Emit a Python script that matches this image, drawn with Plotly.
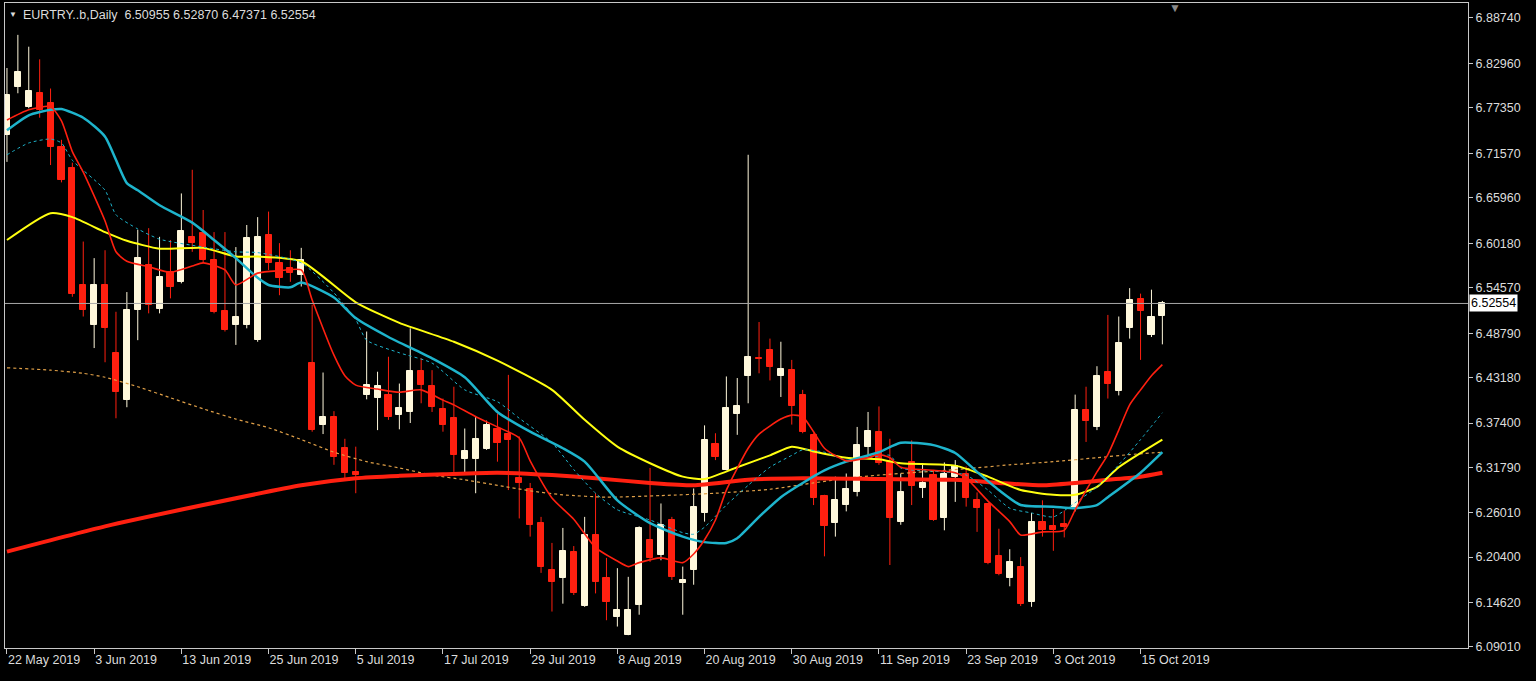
import plotly.graph_objects as go
import pandas as pd

# ---------------- data ----------------
symbol = "EURTRY..b"
timeframe = "Daily"
dates = pd.bdate_range("2019-05-22", "2019-10-17")
cats = [d.strftime("%Y-%m-%d") for d in dates]

opens = [6.739, 6.800, 6.775, 6.792, 6.780, 6.724, 6.697, 6.549, 6.498, 6.549,
         6.463, 6.403, 6.517, 6.574, 6.518, 6.566, 6.553, 6.610, 6.615, 6.581,
         6.516, 6.498, 6.498, 6.479, 6.612, 6.577, 6.571, 6.562, 6.450, 6.371,
         6.381, 6.342, 6.312, 6.409, 6.406, 6.409, 6.384, 6.388, 6.440, 6.421,
         6.392, 6.380, 6.328, 6.328, 6.341, 6.366, 6.360, 6.304, 6.290, 6.247,
         6.188, 6.178, 6.211, 6.142, 6.232, 6.177, 6.128, 6.105, 6.143, 6.226,
         6.207, 6.251, 6.171, 6.188, 6.260, 6.348, 6.314, 6.386, 6.433, 6.457,
         6.467, 6.433, 6.441, 6.409, 6.359, 6.281, 6.247, 6.270, 6.287, 6.344,
         6.363, 6.325, 6.249, 6.324, 6.292, 6.308, 6.253, 6.306, 6.309, 6.277,
         6.271, 6.205, 6.177, 6.192, 6.147, 6.248, 6.244, 6.246, 6.265, 6.391,
         6.369, 6.439, 6.414, 6.494, 6.531, 6.486, 6.50955]
highs = [6.824, 6.866, 6.851, 6.835, 6.798, 6.733, 6.704, 6.604, 6.583, 6.593,
         6.515, 6.540, 6.619, 6.621, 6.610, 6.606, 6.665, 6.695, 6.644, 6.616,
         6.616, 6.597, 6.625, 6.635, 6.642, 6.602, 6.593, 6.596, 6.524, 6.438,
         6.389, 6.354, 6.344, 6.490, 6.439, 6.458, 6.424, 6.494, 6.456, 6.441,
         6.405, 6.420, 6.367, 6.383, 6.377, 6.386, 6.435, 6.357, 6.298, 6.255,
         6.222, 6.241, 6.218, 6.255, 6.285, 6.203, 6.190, 6.179, 6.243, 6.317,
         6.272, 6.255, 6.192, 6.291, 6.371, 6.361, 6.433, 6.431, 6.714, 6.502,
         6.481, 6.477, 6.454, 6.416, 6.361, 6.283, 6.306, 6.310, 6.369, 6.388,
         6.395, 6.354, 6.310, 6.352, 6.321, 6.314, 6.324, 6.327, 6.319, 6.286,
         6.272, 6.240, 6.214, 6.204, 6.260, 6.276, 6.265, 6.263, 6.410, 6.420,
         6.446, 6.511, 6.509, 6.545, 6.538, 6.543, 6.52870]
lows = [6.705, 6.792, 6.773, 6.761, 6.701, 6.679, 6.534, 6.509, 6.469, 6.451,
        6.380, 6.394, 6.479, 6.513, 6.513, 6.532, 6.551, 6.591, 6.577, 6.513,
        6.490, 6.473, 6.494, 6.477, 6.568, 6.536, 6.553, 6.547, 6.363, 6.360,
        6.321, 6.304, 6.285, 6.404, 6.365, 6.378, 6.366, 6.374, 6.399, 6.388,
        6.363, 6.312, 6.311, 6.285, 6.340, 6.325, 6.289, 6.253, 6.230, 6.184,
        6.135, 6.145, 6.156, 6.141, 6.158, 6.124, 6.116, 6.105, 6.131, 6.198,
        6.200, 6.175, 6.131, 6.169, 6.249, 6.327, 6.314, 6.359, 6.399, 6.437,
        6.428, 6.407, 6.372, 6.361, 6.270, 6.205, 6.230, 6.262, 6.281, 6.333,
        6.321, 6.194, 6.245, 6.270, 6.279, 6.250, 6.238, 6.274, 6.268, 6.236,
        6.195, 6.181, 6.167, 6.142, 6.141, 6.230, 6.212, 6.229, 6.262, 6.350,
        6.365, 6.405, 6.409, 6.481, 6.454, 6.483, 6.47371]
closes = [6.790, 6.819, 6.795, 6.771, 6.724, 6.682, 6.538, 6.517, 6.549, 6.494,
          6.413, 6.517, 6.583, 6.524, 6.559, 6.547, 6.617, 6.602, 6.581, 6.515,
          6.492, 6.509, 6.609, 6.610, 6.577, 6.558, 6.564, 6.581, 6.365, 6.381,
          6.331, 6.311, 6.308, 6.422, 6.421, 6.381, 6.393, 6.440, 6.422, 6.394,
          6.371, 6.333, 6.339, 6.354, 6.371, 6.349, 6.352, 6.298, 6.245, 6.192,
          6.173, 6.212, 6.158, 6.232, 6.173, 6.147, 6.137, 6.137, 6.241, 6.203,
          6.245, 6.179, 6.175, 6.268, 6.352, 6.331, 6.393, 6.395, 6.458, 6.455,
          6.445, 6.442, 6.395, 6.363, 6.279, 6.243, 6.276, 6.290, 6.346, 6.364,
          6.323, 6.253, 6.287, 6.294, 6.298, 6.251, 6.310, 6.319, 6.279, 6.266,
          6.196, 6.183, 6.198, 6.145, 6.249, 6.239, 6.239, 6.242, 6.391, 6.377,
          6.433, 6.423, 6.476, 6.530, 6.516, 6.509, 6.52554]

# moving averages (bar index, value)
ma_fast_idx = [0, 2, 4, 5, 6, 7, 9, 10, 11, 13, 15, 17, 18, 20, 21, 23, 25, 27, 28, 30,
               31, 32, 34, 36, 38, 40, 41, 43, 45, 47, 48, 50, 52, 54, 56, 57, 58, 60, 62, 63,
               64, 65, 66, 68, 69, 71, 72, 73, 74, 75, 77, 79, 80, 81, 82, 85, 87, 88, 90, 92,
               93, 95, 97, 98, 100, 101, 102, 103, 104, 105, 106]
ma_fast = [6.758, 6.771, 6.775, 6.757, 6.718, 6.692, 6.630, 6.591, 6.579, 6.572, 6.565, 6.573,
           6.577, 6.568, 6.549, 6.564, 6.567, 6.568, 6.530, 6.460, 6.434, 6.422, 6.417, 6.413,
           6.416, 6.403, 6.397, 6.382, 6.369, 6.355, 6.326, 6.279, 6.252, 6.216, 6.199, 6.192,
           6.197, 6.203, 6.197, 6.208, 6.226, 6.251, 6.289, 6.342, 6.360, 6.379, 6.384, 6.382,
           6.363, 6.342, 6.326, 6.330, 6.334, 6.330, 6.318, 6.314, 6.311, 6.304, 6.275, 6.249,
           6.232, 6.236, 6.238, 6.264, 6.312, 6.334, 6.365, 6.397, 6.416, 6.434, 6.448]

ma_slow_idx = [0, 9, 18, 27, 32, 36, 40, 45, 50, 54, 59, 63, 68, 73, 80, 87, 91, 95, 98, 101, 104, 106]
ma_slow = [6.211, 6.243, 6.270, 6.295, 6.304, 6.307, 6.309, 6.311, 6.308, 6.304, 6.298,
           6.295, 6.302, 6.304, 6.303, 6.302, 6.298, 6.295, 6.298, 6.302, 6.306, 6.311]

ma_yellow_idx = [0, 4, 6, 9, 11, 14, 18, 21, 23, 27, 32, 36, 41, 45, 50, 53, 56, 59, 62, 64,
                 67, 70, 72, 74, 77, 80, 82, 87, 90, 93, 96, 98, 100, 102, 106]
ma_yellow = [6.606, 6.640, 6.635, 6.616, 6.605, 6.595, 6.596, 6.585, 6.585, 6.579, 6.527,
             6.501, 6.477, 6.453, 6.416, 6.378, 6.344, 6.323, 6.306, 6.303, 6.318, 6.333,
             6.344, 6.338, 6.330, 6.328, 6.323, 6.320, 6.306, 6.289, 6.283, 6.283, 6.293,
             6.318, 6.353]

ma_cyan_idx = [0, 2, 4, 5, 7, 9, 11, 12, 14, 17, 19, 21, 23, 24, 26, 27, 30, 32, 35, 39,
               42, 45, 48, 51, 53, 56, 59, 62, 64, 66, 67, 69, 71, 73, 75, 77, 80, 82, 85, 87,
               89, 91, 93, 96, 98, 100, 101, 104, 106]
ma_cyan = [6.745, 6.764, 6.771, 6.772, 6.761, 6.737, 6.678, 6.669, 6.650, 6.628, 6.606,
           6.583, 6.558, 6.549, 6.546, 6.552, 6.533, 6.507, 6.483, 6.456, 6.432, 6.388,
           6.363, 6.342, 6.325, 6.276, 6.247, 6.230, 6.223, 6.222, 6.228, 6.255, 6.280,
           6.298, 6.314, 6.325, 6.337, 6.349, 6.346, 6.336, 6.312, 6.289, 6.270, 6.268,
           6.266, 6.270, 6.280, 6.311, 6.337]

ma_cyan_dash_idx = [0, 2, 4, 5, 6, 9, 10, 12, 14, 18, 21, 23, 27, 30, 32, 33, 36, 39, 42, 45,
                    47, 50, 52, 54, 56, 59, 62, 63, 64, 66, 68, 70, 72, 73, 75, 77, 79, 81, 82, 86,
                    88, 90, 92, 94, 96, 98, 100, 102, 104, 106]
ma_cyan_dash = [6.714, 6.729, 6.734, 6.729, 6.707, 6.669, 6.638, 6.620, 6.607, 6.597, 6.591,
                6.590, 6.577, 6.539, 6.505, 6.479, 6.463, 6.450, 6.416, 6.401, 6.380, 6.349,
                6.315, 6.285, 6.264, 6.251, 6.235, 6.233, 6.242, 6.270, 6.295, 6.318, 6.333,
                6.340, 6.337, 6.327, 6.330, 6.333, 6.317, 6.312, 6.308, 6.289, 6.266, 6.260,
                6.255, 6.273, 6.293, 6.321, 6.353, 6.387]

ma_orange_idx = [0, 4, 7, 9, 12, 15, 18, 21, 24, 27, 30, 33, 36, 39, 42, 45, 48, 51, 55, 60,
                 65, 70, 74, 77, 80, 84, 88, 92, 96, 100, 103, 106]
ma_orange = [6.444, 6.441, 6.437, 6.432, 6.420, 6.406, 6.392, 6.379, 6.368, 6.353, 6.337,
             6.325, 6.317, 6.308, 6.302, 6.295, 6.288, 6.283, 6.280, 6.282, 6.285, 6.290,
             6.298, 6.304, 6.308, 6.312, 6.316, 6.321, 6.325, 6.330, 6.334, 6.337]

price_ticks = [6.88740, 6.82960, 6.77350, 6.71570, 6.65960, 6.60180, 6.54570, 6.48790,
               6.43180, 6.37400, 6.31790, 6.26010, 6.20400, 6.14620, 6.09010]
date_tick_idx = [0, 8, 16, 24, 32, 40, 48, 56, 64, 72, 80, 88, 96, 104]

# ---------------- styles ----------------
BULL = "#FFF8DC"
BEAR = "#FF2010"
CYAN = "#1EB4CC"
TXT = "#DCDCDC"
FRAME = "#C8C8C8"
FONT = "Liberation Sans"

fig = go.Figure()

bull = [c >= o for o, c in zip(opens, closes)]
body_base = [min(o, c) for o, c in zip(opens, closes)]
body_h = [abs(c - o) for o, c in zip(opens, closes)]
body_col = [BULL if b else BEAR for b in bull]

# bodies (first, so the category order follows the dates)
fig.add_trace(go.Bar(x=cats, y=body_h, base=body_base, width=0.56,
                     marker=dict(color=body_col, line=dict(color=body_col, width=1)),
                     hoverinfo="skip"))

# wicks
for flag, col in ((True, BULL), (False, BEAR)):
    wx, wy = [], []
    for k in range(len(cats)):
        if bull[k] == flag:
            wx += [cats[k], cats[k], None]
            wy += [lows[k], highs[k], None]
    fig.add_trace(go.Scatter(x=wx, y=wy, mode="lines", line=dict(color=col, width=1),
                             hoverinfo="skip"))


def ma(idx, vals, color, width, dash="solid"):
    fig.add_trace(go.Scatter(x=[cats[i] for i in idx], y=vals, mode="lines",
                             line=dict(color=color, width=width, dash=dash,
                                       shape="spline", smoothing=0.6),
                             hoverinfo="skip"))


ma(ma_orange_idx, ma_orange, "#E0A048", 1.2, "3px,3px")
ma(ma_slow_idx, ma_slow, BEAR, 4)
ma(ma_yellow_idx, ma_yellow, "#FFFF10", 2)
ma(ma_cyan_idx, ma_cyan, CYAN, 2.5)
ma(ma_cyan_dash_idx, ma_cyan_dash, CYAN, 1, "3px,3px")
ma(ma_fast_idx, ma_fast, BEAR, 1.6)

last = closes[-1]
fig.add_shape(type="line", xref="paper", x0=0, x1=1, yref="y", y0=last, y1=last,
              line=dict(color="#A8A8A8", width=1))

tick_labels = [f"{dates[i].day} {dates[i].strftime('%b %Y')}" for i in date_tick_idx]

fig.update_layout(
    width=1536, height=681,
    paper_bgcolor="black", plot_bgcolor="black",
    margin=dict(l=5, r=68, t=3, b=33),
    showlegend=False, bargap=0, barmode="overlay",
    font=dict(family=FONT, size=12.5, color=TXT),
    xaxis=dict(type="category", categoryorder="array", categoryarray=cats,
               range=[-0.18, 134.04],
               tickvals=[cats[i] for i in date_tick_idx], ticktext=tick_labels,
               tickangle=0,
               ticks="outside", ticklen=5, tickcolor=FRAME, tickwidth=1,
               ticklabelposition="outside right",
               tickfont=dict(family=FONT, size=12.5, color=TXT),
               showgrid=False, zeroline=False, showline=True, linecolor=FRAME,
               linewidth=1, mirror=True),
    yaxis=dict(side="right", range=[6.0888, 6.9064],
               tickvals=price_ticks, ticktext=[f"{v:.5f}" for v in price_ticks],
               ticks="outside", ticklen=4, tickcolor=FRAME, tickwidth=1,
               tickfont=dict(family=FONT, size=12.5, color=TXT),
               showgrid=False, zeroline=False, showline=True, linecolor=FRAME,
               linewidth=1, mirror=True),
)

# current price box on the axis
fig.add_annotation(xref="paper", x=1, xanchor="left", xshift=1, yref="y", y=last,
                   text=f"{last:.5f}", showarrow=False, bgcolor="white",
                   font=dict(family=FONT, size=12.5, color="black"), borderpad=1)

# header
fig.add_annotation(xref="paper", x=0, xanchor="left", xshift=2, yref="paper", y=1,
                   yanchor="top", yshift=-5, text="\u25BC", showarrow=False,
                   font=dict(family=FONT, size=8, color=TXT))
fig.add_annotation(xref="paper", x=0, xanchor="left", xshift=16, yref="paper", y=1,
                   yanchor="top", yshift=-3,
                   text=f"{symbol},{timeframe}\u00a0\u00a0{opens[-1]:.5f} {highs[-1]:.5f} "
                        f"{lows[-1]:.5f} {closes[-1]:.5f}",
                   showarrow=False, font=dict(family=FONT, size=12.5, color=TXT))
# chart-shift marker
fig.add_annotation(xref="paper", x=0.7997, xanchor="center", yref="paper", y=1,
                   yanchor="top", yshift=4, text="\u25BC", showarrow=False,
                   font=dict(family=FONT, size=12, color="#8A8A8A"))

fig.write_html("out.html", config={"displayModeBar": False},
               post_script="document.body.style.margin='0px';"
                           "document.body.style.background='black';")
